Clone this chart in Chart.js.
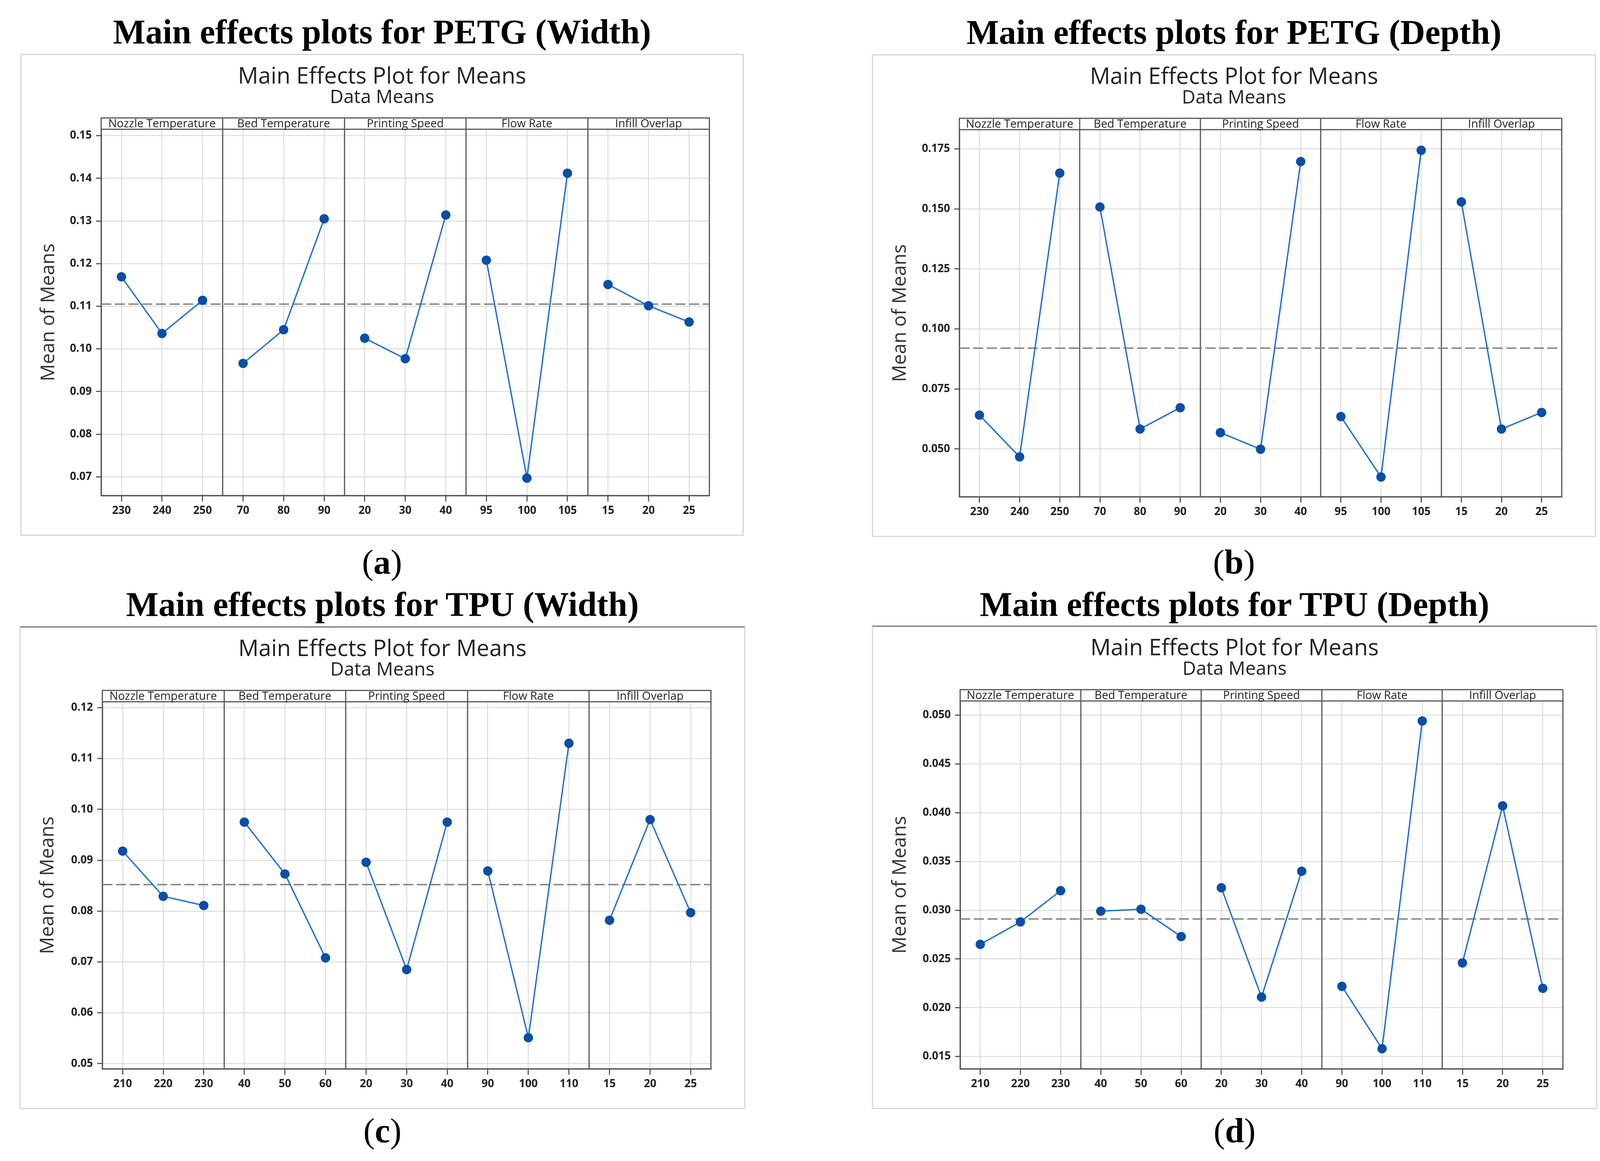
<!DOCTYPE html>
<html>
<head>
<meta charset="utf-8">
<title>Main effects plots</title>
<script src="https://cdn.jsdelivr.net/npm/chart.js@4.4.1/dist/chart.umd.min.js"></script>
<style>
html, body { margin: 0; padding: 0; background: #fff; }
body { width: 4135px; height: 2973px; position: relative; overflow: hidden; }
.head { position: absolute; width: 1900px; margin-left: -950px; text-align: center;
        font: bold 88px "Liberation Serif", serif; line-height: 1; color: #000; white-space: nowrap; }
.cap { position: absolute; width: 400px; margin-left: -200px; text-align: center;
       font: 88px "Liberation Serif", serif; line-height: 1; color: #000; }
.cap b { font-weight: bold; }
.box { position: absolute; box-sizing: border-box; border: 3px solid #d6d6d6; background: #fff; }
.box canvas { position: absolute; left: -3px; top: -3px; }
</style>
</head>
<body>
<script>
// factor names (one strip per factor)
var factors = ['Nozzle Temperature', 'Bed Temperature', 'Printing Speed', 'Flow Rate', 'Infill Overlap'];

// level labels, 3 per factor
var petgLevels = ['230', '240', '250', '70', '80', '90', '20', '30', '40', '95', '100', '105', '15', '20', '25'];
var tpuLevels = ['210', '220', '230', '40', '50', '60', '20', '30', '40', '90', '100', '110', '15', '20', '25'];

// means, 3 per factor
var petgWidthMeans = [0.1169, 0.1036, 0.1114, 0.0966, 0.1045, 0.1305, 0.1025, 0.0977, 0.1314, 0.1208, 0.0697, 0.1412, 0.1151, 0.1101, 0.1063];
var petgDepthMeans = [0.0641, 0.0467, 0.1649, 0.1508, 0.0583, 0.0672, 0.0568, 0.0499, 0.1697, 0.0635, 0.0383, 0.1744, 0.1529, 0.0583, 0.0652];
var tpuWidthMeans = [0.0918, 0.0829, 0.0811, 0.0975, 0.0873, 0.0708, 0.0896, 0.0685, 0.0975, 0.0879, 0.0551, 0.1130, 0.0782, 0.0980, 0.0797];
var tpuDepthMeans = [0.0265, 0.0288, 0.0320, 0.0299, 0.0301, 0.0273, 0.0323, 0.0211, 0.0340, 0.0222, 0.0158, 0.0494, 0.0246, 0.0407, 0.0220];

// grand means (dashed reference line)
var petgWidthGrand = 0.1105;
var petgDepthGrand = 0.0920;
var tpuWidthGrand = 0.0852;
var tpuDepthGrand = 0.0291;

// y tick labels
var petgWidthTicks = [0.07, 0.08, 0.09, 0.10, 0.11, 0.12, 0.13, 0.14, 0.15];
var petgDepthTicks = [0.050, 0.075, 0.100, 0.125, 0.150, 0.175];
var tpuWidthTicks = [0.05, 0.06, 0.07, 0.08, 0.09, 0.10, 0.11, 0.12];
var tpuDepthTicks = [0.015, 0.020, 0.025, 0.030, 0.035, 0.040, 0.045, 0.050];

var panels = [
    {head: 'Main effects plots for PETG (Width)', cap: 'a', levels: petgLevels, means: petgWidthMeans, grand: petgWidthGrand,
     ticks: petgWidthTicks, dec: 2, yMin: 0.0656, yMax: 0.1515, left: 52, top: 138, w: 1852, h: 1234, plotLeft: 207, headTop: 38, capTop: 1396},
    {head: 'Main effects plots for PETG (Depth)', cap: 'b', levels: petgLevels, means: petgDepthMeans, grand: petgDepthGrand,
     ticks: petgDepthTicks, dec: 3, yMin: 0.0301, yMax: 0.1830, left: 2232, top: 139, w: 1854, h: 1236, plotLeft: 224, headTop: 39, capTop: 1396},
    {head: 'Main effects plots for TPU (Width)', cap: 'c', levels: tpuLevels, means: tpuWidthMeans, grand: tpuWidthGrand,
     ticks: tpuWidthTicks, dec: 2, yMin: 0.04897, yMax: 0.12117, left: 50, top: 1604, w: 1858, h: 1236, plotLeft: 212, headTop: 1504, capTop: 2852},
    {head: 'Main effects plots for TPU (Depth)', cap: 'd', levels: tpuLevels, means: tpuDepthMeans, grand: tpuDepthGrand,
     ticks: tpuDepthTicks, dec: 3, yMin: 0.01374, yMax: 0.05145, left: 2232, top: 1602, w: 1857, h: 1238, plotLeft: 226, headTop: 1504, capTop: 2852}
];

var STRIP = 29;
var FRAME = '#555555';

// draws the outer frame, the facet strips and the facet separators
var facetFrame = {
    id: 'facetFrame',
    beforeDatasetsDraw: function (chart) {
        var ctx = chart.ctx, a = chart.chartArea, x = chart.scales.x;
        ctx.save();
        ctx.strokeStyle = FRAME;
        ctx.lineWidth = 3;
        ctx.strokeRect(a.left, a.top - STRIP, a.right - a.left, a.bottom - a.top + STRIP);
        ctx.beginPath();
        ctx.moveTo(a.left, a.top);
        ctx.lineTo(a.right, a.top);
        for (var f = 1; f < factors.length; f++) {
            var px = Math.round(x.getPixelForValue(f * 3));
            ctx.moveTo(px, a.top - STRIP);
            ctx.lineTo(px, a.bottom);
        }
        ctx.stroke();
        ctx.fillStyle = '#222';
        ctx.font = '29px "Open Sans"';
        ctx.textAlign = 'center';
        ctx.textBaseline = 'middle';
        for (var i = 0; i < factors.length; i++) {
            ctx.fillText(factors[i], x.getPixelForValue(i * 3 + 1.5), a.top - STRIP / 2 + 1);
        }
        ctx.restore();
    }
};

Chart.defaults.font.family = 'Open Sans';

panels.forEach(function (p, n) {
    var head = document.createElement('div');
    head.className = 'head';
    head.style.left = (p.left + p.w / 2) + 'px';
    head.style.top = p.headTop + 'px';
    head.textContent = p.head;
    document.body.appendChild(head);

    var cap = document.createElement('div');
    cap.className = 'cap';
    cap.style.left = (p.left + p.w / 2) + 'px';
    cap.style.top = p.capTop + 'px';
    var letter = document.createElement('b');
    letter.textContent = p.cap;
    cap.appendChild(document.createTextNode('('));
    cap.appendChild(letter);
    cap.appendChild(document.createTextNode(')'));
    document.body.appendChild(cap);

    var box = document.createElement('div');
    box.className = 'box';
    box.style.left = p.left + 'px';
    box.style.top = p.top + 'px';
    box.style.width = p.w + 'px';
    box.style.height = p.h + 'px';
    if (n >= 2) box.style.borderTopColor = '#6e7288';
    var canvas = document.createElement('canvas');
    canvas.width = p.w;
    canvas.height = p.h;
    box.appendChild(canvas);
    document.body.appendChild(box);

    // one dataset per factor so the lines break between strips
    var positions = [];
    var datasets = [];
    for (var f = 0; f < factors.length; f++) {
        var pts = [];
        for (var j = 0; j < 3; j++) {
            var k = f * 3 + j;
            positions.push(k + 0.5);
            pts.push({x: k + 0.5, y: p.means[k]});
        }
        datasets.push({
            data: pts,
            borderColor: '#1f6fd6',
            borderWidth: 3.5,
            pointBackgroundColor: '#0a4ea6',
            pointBorderColor: '#0a4ea6',
            pointBorderWidth: 0,
            pointRadius: 12,
            tension: 0,
            clip: false
        });
    }
    datasets.push({
        data: [{x: 0, y: p.grand}, {x: factors.length * 3, y: p.grand}],
        borderColor: '#808080',
        borderWidth: 3.5,
        borderDash: [26, 9],
        pointRadius: 0,
        tension: 0
    });

    new Chart(canvas.getContext('2d'), {
        type: 'line',
        data: {datasets: datasets},
        plugins: [facetFrame],
        options: {
            responsive: false,
            animation: false,
            devicePixelRatio: 1,
            layout: {padding: 0},
            plugins: {
                legend: {display: false},
                tooltip: {enabled: false},
                title: {
                    display: true,
                    text: 'Main Effects Plot for Means',
                    color: '#222',
                    font: {family: 'Open Sans', size: 58, weight: 'normal', lineHeight: 1},
                    padding: {top: 30, bottom: 0}
                },
                subtitle: {
                    display: true,
                    text: 'Data Means',
                    color: '#222',
                    font: {family: 'Open Sans', size: 48, weight: 'normal', lineHeight: 1},
                    padding: {top: 0, bottom: 57}
                }
            },
            scales: {
                x: {
                    type: 'linear',
                    min: 0,
                    max: factors.length * 3,
                    afterBuildTicks: function (scale) {
                        scale.ticks = positions.map(function (v) { return {value: v}; });
                    },
                    afterFit: function (scale) { scale.height = 103; },
                    ticks: {
                        autoSkip: false,
                        maxRotation: 0,
                        minRotation: 0,
                        padding: 7,
                        color: '#222',
                        font: {size: 28, weight: 'bold'},
                        callback: function (v, i) { return p.levels[i]; }
                    },
                    grid: {color: '#dcdcdc', lineWidth: 2.5, tickColor: FRAME, tickLength: 15, tickWidth: 3},
                    border: {display: true, color: FRAME, width: 3}
                },
                y: {
                    type: 'linear',
                    min: p.yMin,
                    max: p.yMax,
                    afterBuildTicks: function (scale) {
                        scale.ticks = p.ticks.map(function (v) { return {value: v}; });
                    },
                    afterFit: function (scale) { scale.width = p.plotLeft; },
                    ticks: {
                        padding: 11,
                        color: '#222',
                        font: {size: 28, weight: 'bold'},
                        callback: function (v) { return v.toFixed(p.dec); }
                    },
                    grid: {color: '#dcdcdc', lineWidth: 2.5, tickColor: FRAME, tickLength: 13, tickWidth: 3},
                    border: {display: true, color: FRAME, width: 3},
                    title: {
                        display: true,
                        text: 'Mean of Means',
                        color: '#333',
                        font: {family: 'Open Sans', size: 49, weight: 'normal'},
                        padding: {top: 44, bottom: 0}
                    }
                },
                // empty right-hand margin, keeps the titles centred on the whole box
                margin: {
                    type: 'linear',
                    position: 'right',
                    afterFit: function (scale) { scale.width = 88; },
                    ticks: {display: false},
                    grid: {display: false},
                    border: {display: false}
                }
            }
        }
    });
});
</script>
</body>
</html>
